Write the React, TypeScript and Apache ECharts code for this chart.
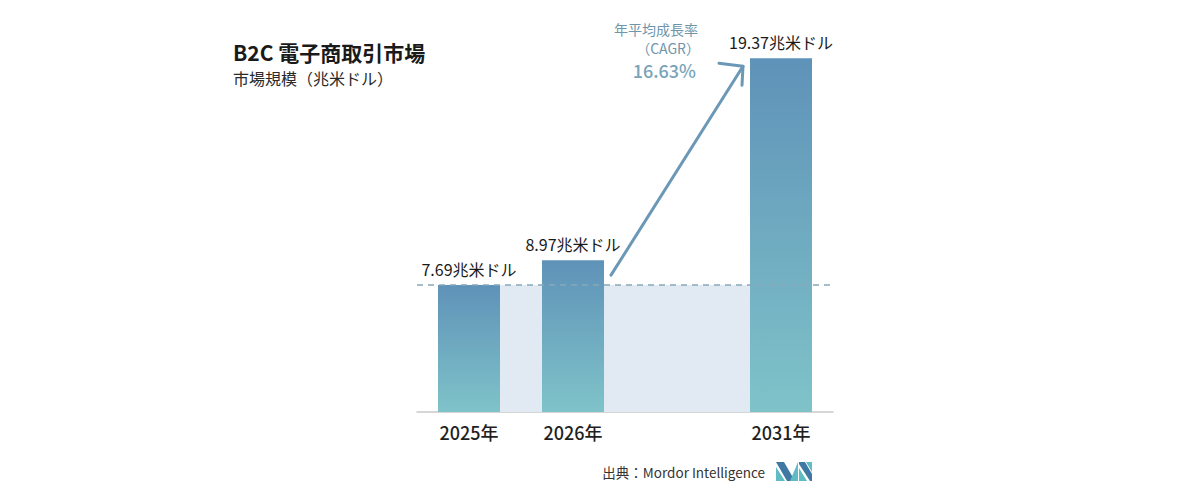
import React, { useEffect, useRef } from "react";
import * as echarts from "echarts";

const categories = ["2025年", "2026年", "", "2031年"];
const values: (number | string)[] = [7.69, 8.97, "-", 19.37];
const unit = "兆米ドル";
const titleText = "B2C 電子商取引市場";
const subtitleText = "市場規模（兆米ドル）";
const cagrLines = ["年平均成長率", "（CAGR）"];
const cagrValue = "16.63%";
const sourceText = "出典：Mordor Intelligence";

const FONT = "'Noto Sans CJK JP', 'Noto Sans', sans-serif";
const AXIS_MIN = 1.15;
const AXIS_MAX = 20;

export default function App() {
  const ref = useRef<HTMLDivElement>(null);
  useEffect(() => {
    if (!ref.current) return;
    const chart = echarts.init(ref.current, null, { renderer: "svg" });
    const barColor = new echarts.graphic.LinearGradient(0, 0, 0, 1, [
      { offset: 0, color: "#5f92b8" },
      { offset: 1, color: "#7fc3c9" },
    ]);
    chart.setOption({
      animation: false,
      backgroundColor: "#ffffff",
      grid: { left: 417, right: 367, top: 46, bottom: 88 },
      xAxis: {
        type: "category",
        data: categories,
        axisTick: { show: false },
        axisLine: { lineStyle: { color: "#c9c9c9", width: 1.5 } },
        axisLabel: {
          fontSize: 18,
          fontWeight: 500,
          color: "#1f1f1f",
          margin: 11,
          fontFamily: FONT,
        },
      },
      yAxis: {
        type: "value",
        min: AXIS_MIN,
        max: AXIS_MAX,
        show: false,
        splitLine: { show: false },
      },
      series: [
        {
          type: "bar",
          z: 3,
          data: values,
          barWidth: 62,
          itemStyle: { color: barColor },
          label: {
            show: true,
            position: "top",
            distance: 8,
            fontSize: 16,
            fontWeight: "normal",
            color: "#1a1a1a",
            fontFamily: FONT,
            formatter: (p: any) => `${p.value}${unit}`,
          },
          markLine: {
            silent: true,
            symbol: "none",
            label: { show: false },
            lineStyle: { color: "#87a8b8", type: [6, 5], width: 1.5 },
            data: [{ yAxis: values[0] as number }],
          },
        },
      ],
    });

    const a0 = chart.convertToPixel({ gridIndex: 0 }, [0, values[0] as number]);
    const a1 = chart.convertToPixel({ gridIndex: 0 }, [3, AXIS_MIN]);
    const p1 = chart.convertToPixel({ gridIndex: 0 }, [1, values[1] as number]);
    const p2 = chart.convertToPixel({ gridIndex: 0 }, [3, values[3] as number]);
    const start = [p1[0] + 38, p1[1] + 15];
    const tip = [p2[0] - 38, p2[1] + 8];
    const arrowColor = "#6a98b6";

    chart.setOption({
      graphic: [
        {
          type: "rect",
          z: 1,
          silent: true,
          shape: { x: a0[0], y: a0[1], width: a1[0] - a0[0], height: a1[1] - a0[1] },
          style: { fill: "#e1eaf2" },
        },
        {
          type: "text",
          x: 233,
          y: 52,
          style: {
            text: titleText,
            font: `bold 21px ${FONT}`,
            fill: "#1a1a1a",
            verticalAlign: "middle",
          },
        },
        {
          type: "text",
          x: 233,
          y: 78,
          style: {
            text: subtitleText,
            font: `16px ${FONT}`,
            fill: "#2a2a2a",
            verticalAlign: "middle",
          },
        },
        {
          type: "text",
          x: 698,
          y: 29,
          style: {
            text: cagrLines[0],
            font: `14px ${FONT}`,
            fill: "#6f95aa",
            align: "right",
            verticalAlign: "middle",
          },
        },
        {
          type: "text",
          x: 700,
          y: 48,
          style: {
            text: cagrLines[1],
            font: `14px ${FONT}`,
            fill: "#6f95aa",
            align: "right",
            verticalAlign: "middle",
          },
        },
        {
          type: "text",
          x: 696,
          y: 70,
          style: {
            text: cagrValue,
            font: `500 18px ${FONT}`,
            fill: "#78a4b9",
            align: "right",
            verticalAlign: "middle",
          },
        },
        {
          type: "line",
          z: 10,
          shape: { x1: start[0], y1: start[1], x2: tip[0], y2: tip[1] },
          style: { stroke: arrowColor, lineWidth: 3, lineCap: "round" },
        },
        {
          type: "polyline",
          z: 10,
          shape: {
            points: [
              [tip[0] - 24, tip[1] - 3],
              [tip[0], tip[1]],
              [tip[0] - 1, tip[1] + 19],
            ],
          },
          style: {
            stroke: arrowColor,
            lineWidth: 3,
            fill: "none",
            lineCap: "round",
            lineJoin: "round",
          },
        },
        {
          type: "text",
          x: 765,
          y: 472,
          style: {
            text: sourceText,
            font: `13.5px ${FONT}`,
            fill: "#333333",
            align: "right",
            verticalAlign: "middle",
          },
        },
        {
          type: "group",
          x: 776,
          y: 462,
          children: [
            {
              type: "polygon",
              shape: { points: [[0, 5], [0, 19], [9, 19]] },
              style: { fill: "#5fbcc4" },
            },
            {
              type: "polygon",
              shape: { points: [[0, 0], [8, 0], [19, 19], [11, 19]] },
              style: { fill: "#3f78a3" },
            },
            {
              type: "polygon",
              shape: { points: [[14, 19], [22, 0], [22, 19]] },
              style: { fill: "#5fbcc4" },
            },
            {
              type: "polygon",
              shape: { points: [[23, 0], [29, 0], [36, 12], [36, 19], [34, 19], [23, 2]] },
              style: { fill: "#3f78a3" },
            },
            {
              type: "polygon",
              shape: { points: [[30, 0], [36, 0], [36, 10]] },
              style: { fill: "#5fbcc4" },
            },
            {
              type: "polygon",
              shape: { points: [[23, 6], [31, 19], [23, 19]] },
              style: { fill: "#5fbcc4" },
            },
          ],
        },
      ],
    });

    return () => chart.dispose();
  }, []);
  return (
    <div
      ref={ref}
      style={{ position: "fixed", left: 0, top: 0, width: 1200, height: 500, background: "#fff" }}
    />
  );
}
